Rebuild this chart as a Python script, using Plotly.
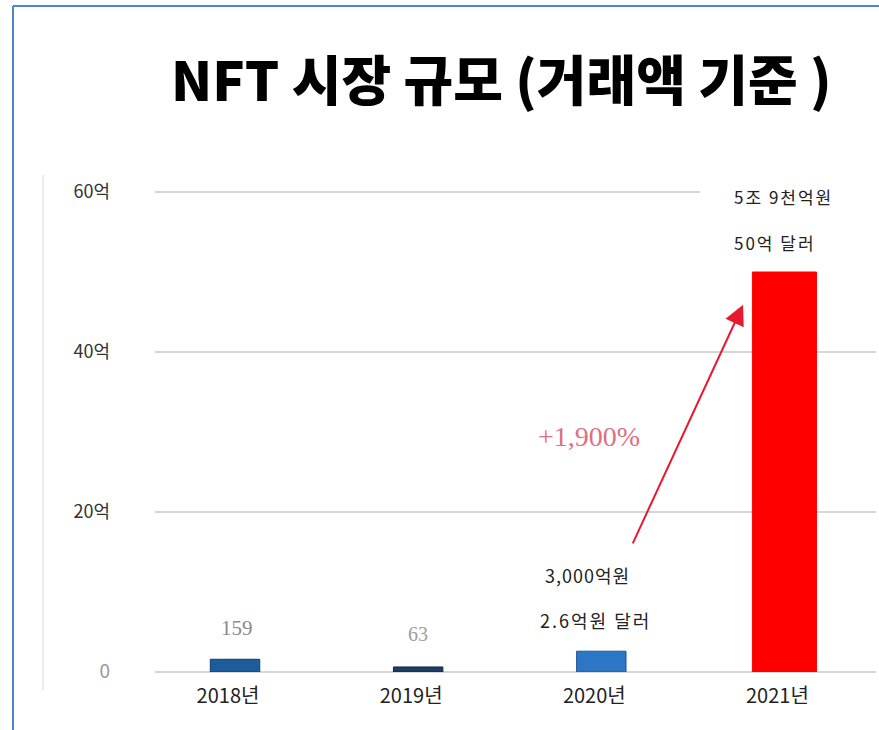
import plotly.graph_objects as go

# NFT market size by year (unit: 억 dollars)
years = ["2018년", "2019년", "2020년", "2021년"]
values = [1.59, 0.63, 2.6, 50]
bar_colors = ["#1c5b9c", "#1e3d62", "#2d76c6", "#fe0000"]
bar_lines = ["#123f6e", "#14283f", "#1f5a9a", "#fe0000"]
bar_widths = [0.27, 0.27, 0.27, 0.35]

tick_vals = [0, 20, 40, 60]
tick_text = ["<span style='color:#9a9a9a;font-size:19px'>0</span>", "20억", "40억", "60억"]

W, H = 879, 730
Y_TOP = 60.5
L, R, T, B = 155, 3, 188, 58
X0, X1 = -0.437, 3.5


def px_x(p):
    return (p - L) / (W - L - R)


def px_y(p):
    return (H - B - p) / (H - T - B)


def spaced(s, ls):
    return f"<span style='letter-spacing:{ls}px'>{s}</span>"


fig = go.Figure()
fig.add_trace(go.Bar(
    x=list(range(len(years))),
    y=values,
    width=bar_widths,
    marker=dict(color=bar_colors, line=dict(color=bar_lines, width=1)),
    hoverinfo="skip",
))

kr = "Noto Sans CJK KR"
annotations = [
    # title
    dict(text="NFT 시장 규모 (거래액 기준 )", x=px_x(501), y=px_y(77),
         xref="paper", yref="paper", xanchor="center", yanchor="middle",
         showarrow=False,
         font=dict(family=kr, size=54, color="#000", weight=900)),
    # value labels
    dict(text="159", x=0, y=5.5, xshift=2, showarrow=False,
         font=dict(family="Liberation Serif", size=21, color="#8a8a8a")),
    dict(text="63", x=1, y=4.75, xshift=0, showarrow=False,
         font=dict(family="Liberation Serif", size=20, color="#a0a0a0")),
    dict(text=spaced("3,000억원", 1), x=2, y=12.1, xshift=-14, showarrow=False,
         font=dict(family=kr, size=18, color="#222")),
    dict(text=spaced("2.6억원 달러", 2), x=2, y=6.5, xshift=-6, showarrow=False,
         font=dict(family=kr, size=18, color="#222")),
    dict(text=spaced("5조 9천억원", 2), x=3, y=59.4, xshift=-1, showarrow=False,
         font=dict(family=kr, size=17, color="#222")),
    dict(text=spaced("50억 달러", 2), x=3, y=53.75, xshift=-9, showarrow=False,
         font=dict(family=kr, size=17, color="#222")),
    dict(text="+1,900%", x=2, y=29.4, xshift=-12, showarrow=False,
         font=dict(family="Liberation Serif", size=28, color="#e0707f")),
    # growth arrow
    dict(text="", x=2.774, y=45.9, ax=2.168, ay=15.9, xref="x", yref="y",
         axref="x", ayref="y", showarrow=True, arrowhead=2, arrowsize=2,
         arrowwidth=2, arrowcolor="#e8182e"),
]

shapes = [
    # the top gridline stops short of the 2021 caption
    dict(type="rect", xref="paper", yref="y", x0=px_x(700), x1=1.01,
         y0=59.6, y1=60.4, fillcolor="#fff", line=dict(width=0), layer="above"),
    # faint left rule
    dict(type="line", xref="paper", yref="paper", x0=px_x(43), x1=px_x(43),
         y0=px_y(175), y1=px_y(690), line=dict(color="#e9edf3", width=2)),
    # frame edges
    dict(type="line", xref="paper", yref="paper", x0=px_x(13), x1=px_x(W + 2),
         y0=px_y(6), y1=px_y(6), line=dict(color="#4f84d2", width=2)),
    dict(type="line", xref="paper", yref="paper", x0=px_x(13), x1=px_x(13),
         y0=px_y(6), y1=px_y(H + 2), line=dict(color="#4f84d2", width=2)),
]

fig.update_layout(
    width=W, height=H,
    margin=dict(l=L, r=R, t=T, b=B),
    paper_bgcolor="#fff", plot_bgcolor="#fff",
    showlegend=False,
    annotations=annotations,
    shapes=shapes,
    xaxis=dict(
        range=[X0, X1], tickvals=list(range(len(years))), ticktext=years,
        showgrid=False, zeroline=False, showline=False, ticks="",
        tickfont=dict(family=kr, size=20, color="#222"), ticklabelstandoff=10,
        ticklabelshift=-7,
        fixedrange=True,
    ),
    yaxis=dict(
        range=[0, Y_TOP], tickvals=tick_vals, ticktext=tick_text,
        showgrid=True, gridcolor="#d6d6d6", gridwidth=1.5,
        zeroline=True, zerolinecolor="#d6d6d6", zerolinewidth=1.5,
        showline=False, ticks="", ticklabelstandoff=44,
        tickfont=dict(family=kr, size=18, color="#333"),
        fixedrange=True,
    ),
)

fig.write_html("out.html")
